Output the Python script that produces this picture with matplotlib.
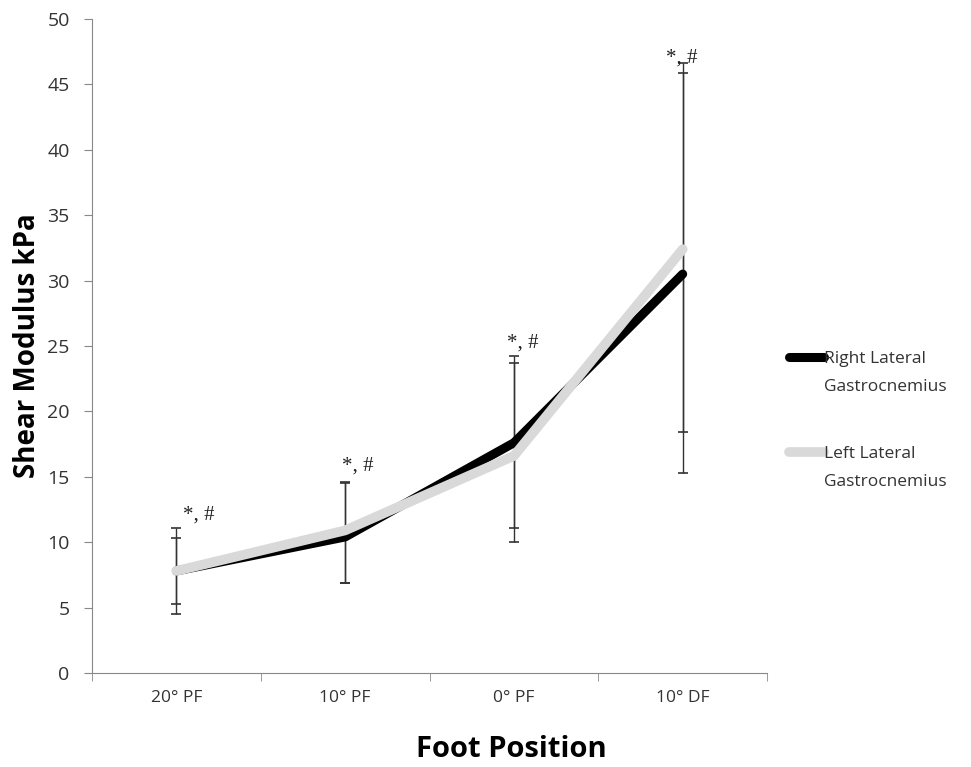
import matplotlib
matplotlib.use('Agg')
from matplotlib import pyplot as plt
import numpy as np

positions = ['20° PF', '10° PF', '0° PF', '10° DF']
right_mean = [7.8, 10.4, 17.6, 30.5]
left_mean = [7.8, 10.9, 16.6, 32.4]
right_low = [5.3, 6.9, 11.1, 18.4]
right_high = [10.3, 14.6, 24.2, 46.6]
left_low = [4.5, 6.9, 10.0, 15.3]
left_high = [11.1, 14.5, 23.7, 45.9]
marks = ['*, #', '*, #', '*, #', '*, #']
mark_y = [12.1, 15.8, 25.2, 47.0]
mark_dx = [0.04, -0.02, -0.04, -0.1]

plt.rcParams['font.family'] = ['Open Sans', 'DejaVu Sans']

fig = plt.figure(figsize=(9.71, 7.67), dpi=100)
ax = fig.add_axes([0.0947, 0.1226, 0.6953, 0.8526])
x = np.arange(len(positions))

rm, lm = np.array(right_mean), np.array(left_mean)
ax.errorbar(x, rm, yerr=[rm - right_low, np.array(right_high) - rm], fmt='none',
            ecolor='#333333', elinewidth=1, capsize=3.5, capthick=1.2, zorder=1)
ax.errorbar(x, lm, yerr=[lm - left_low, np.array(left_high) - lm], fmt='none',
            ecolor='#333333', elinewidth=1, capsize=3.5, capthick=1.2, zorder=1)

ax.plot(x, rm, color='black', lw=6.5, solid_capstyle='round', solid_joinstyle='round',
        label='Right Lateral', zorder=2)
ax.plot(x, lm, color='#d9d9d9', lw=7, solid_capstyle='round', solid_joinstyle='round',
        label='Left Lateral', zorder=3)

for xi, txt, yy, dx in zip(x, marks, mark_y, mark_dx):
    ax.text(xi + dx, yy, txt, ha='left', va='center', fontsize=15, color='#222222',
            family='Liberation Serif')

ax.set_xlim(-0.5, len(positions) - 0.5)
ax.set_ylim(0, 50)
ax.set_yticks(range(0, 51, 5))
ax.set_xticks(x)
ax.set_xticklabels(positions)
ax.set_xticks(np.arange(-0.5, len(positions), 1), minor=True)
ax.tick_params(axis='x', which='major', length=0, labelsize=12.5, pad=12, colors='#333333')
ax.tick_params(axis='x', which='minor', length=6, direction='out', color='#888888')
ax.tick_params(axis='y', length=6, direction='out', color='#888888', labelsize=14,
               labelcolor='#333333', pad=10)
for side in ['top', 'right']:
    ax.spines[side].set_visible(False)
for side in ['left', 'bottom']:
    ax.spines[side].set_color('#888888')

ax.set_ylabel('Shear Modulus kPa', fontsize=20, fontweight='bold', labelpad=4)
ax.set_xlabel('Foot Position', fontsize=21, fontweight='bold', labelpad=20)
ax.xaxis.set_label_coords(0.621, -0.095)

leg = fig.legend(loc='upper left', bbox_to_anchor=(0.813, 0.542), frameon=False, fontsize=12.5,
                 handlelength=2.0, handletextpad=0.0, labelspacing=4.5, labelcolor='#333333',
                 borderpad=0, borderaxespad=0)

# second line of each legend label, kept under the first so the handle sits on line one
fig.canvas.draw()
for t in leg.get_texts():
    bb = t.get_window_extent()
    fig.text(bb.x0 / fig.bbox.width, (bb.y0 - 28) / fig.bbox.height, 'Gastrocnemius',
             fontsize=12.5, color='#333333', ha='left', va='bottom')

fig.savefig('out.png', dpi=100)
